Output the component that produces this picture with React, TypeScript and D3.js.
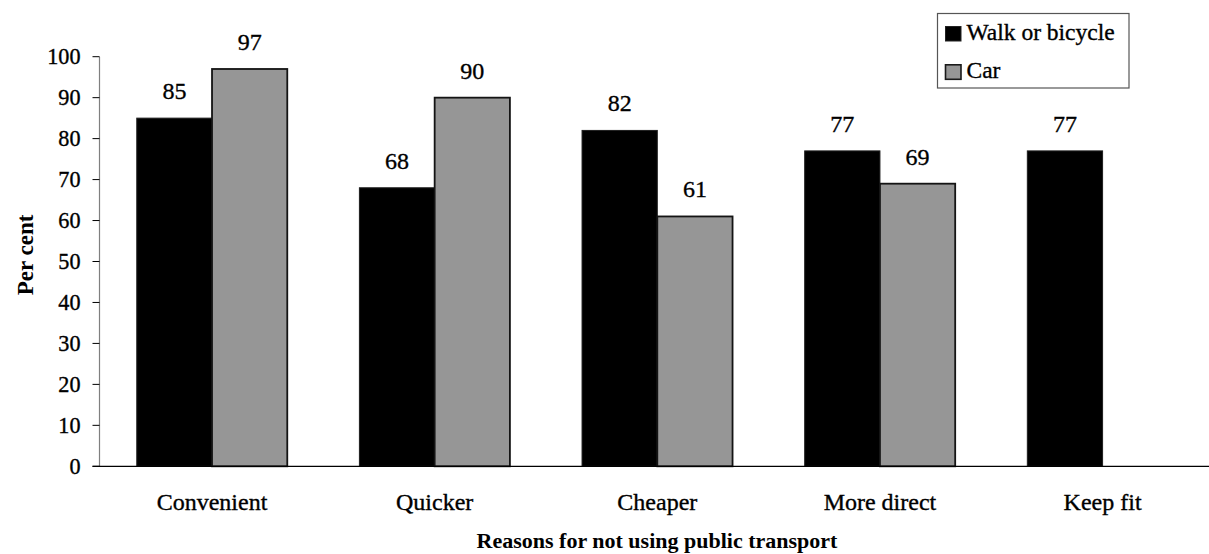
import React from "react";
import * as d3 from "d3";

// Reasons for not using public transport, per cent of respondents
const categories = ["Convenient", "Quicker", "Cheaper", "More direct", "Keep fit"];
const seriesNames = ["Walk or bicycle", "Car"];
const walkOrBicycle: (number | null)[] = [85, 68, 82, 77, 77];
const car: (number | null)[] = [97, 90, 61, 69, null];
const yTicks = [0, 10, 20, 30, 40, 50, 60, 70, 80, 90, 100];

const seriesColors = ["#000000", "#969696"];
const seriesStrokes = ["#1e1e1e", "#141414"];

const WIDTH = 1209;
const HEIGHT = 554;
const FONT = '"Liberation Serif", "Times New Roman", "DejaVu Serif", serif';

export default function App() {
  const series = [walkOrBicycle, car];

  const x = d3
    .scaleBand<string>()
    .domain(categories)
    .range([100.7, 1213.9])
    .paddingInner(0.324)
    .paddingOuter(0.162);

  const xSub = d3
    .scaleBand<string>()
    .domain(seriesNames)
    .range([0, x.bandwidth()])
    .padding(0);

  const y = d3.scaleLinear().domain([0, 100]).range([466.3, 56.7]);

  const axisX = 99.5;
  // regular-weight labels get a hairline outline so they print a little heavier
  const textStyle = { fontFamily: FONT };
  const regular = { stroke: "#000", strokeWidth: 0.35 };

  return (
    <svg
      width={WIDTH}
      height={HEIGHT}
      style={{ position: "absolute", left: 0, top: 0, background: "#fff", fontFamily: FONT }}
    >
      {/* Bars */}
      {categories.map((cat, ci) => (
        <g key={cat} transform={`translate(${x(cat)},0)`}>
          {series.map((vals, si) => {
            const v = vals[ci];
            if (v == null) return null;
            const bx = xSub(seriesNames[si])!;
            const top = y(v);
            return (
              <g key={seriesNames[si]}>
                <rect
                  x={bx}
                  y={top}
                  width={xSub.bandwidth()}
                  height={y(0) - top}
                  fill={seriesColors[si]}
                  stroke={seriesStrokes[si]}
                  strokeWidth={si === 1 ? 1.8 : 1}
                />
                <text
                  x={bx + xSub.bandwidth() / 2}
                  y={top - 19}
                  textAnchor="middle"
                  fontSize={24}
                  fill="#000"
                  style={textStyle}
                  {...regular}
                >
                  {v}
                </text>
              </g>
            );
          })}
        </g>
      ))}

      {/* Y axis */}
      <line x1={axisX} x2={axisX} y1={y(100)} y2={y(0)} stroke="#7f7f7f" strokeWidth={1.2} />
      {yTicks.map((t) => (
        <g key={t}>
          <line x1={92.5} x2={axisX} y1={y(t)} y2={y(t)} stroke="#000" strokeWidth={1} />
          <text
            x={80.5}
            y={y(t)}
            dy="0.34em"
            textAnchor="end"
            fontSize={22.2}
            fill="#000"
            style={textStyle}
            {...regular}
          >
            {t}
          </text>
        </g>
      ))}

      {/* X axis */}
      <line x1={92.5} x2={WIDTH} y1={y(0)} y2={y(0)} stroke="#000" strokeWidth={1.3} />
      {categories.map((cat) => (
        <text
          key={cat}
          x={x(cat)! + x.bandwidth() / 2}
          y={509.5}
          textAnchor="middle"
          fontSize={24}
          fill="#000"
          style={textStyle}
          {...regular}
        >
          {cat}
        </text>
      ))}

      {/* Axis titles */}
      <text
        x={657}
        y={547.5}
        textAnchor="middle"
        fontSize={22}
        fontWeight="bold"
        fill="#000"
        style={textStyle}
      >
        Reasons for not using public transport
      </text>
      <text
        transform="translate(33,255) rotate(-90)"
        textAnchor="middle"
        fontSize={23}
        fontWeight="bold"
        fill="#000"
        style={textStyle}
      >
        Per cent
      </text>

      {/* Legend */}
      <g>
        <rect x={937.5} y={13.5} width={191.5} height={74.5} fill="#fff" stroke="#555" strokeWidth={1.2} />
        {seriesNames.map((name, i) => {
          const baseline = 40 + i * 38.3;
          return (
            <g key={name}>
              <rect
                x={945.5}
                y={baseline - 13.5}
                width={15.5}
                height={14.5}
                fill={seriesColors[i]}
                stroke={i === 1 ? "#1a1a1a" : "#222"}
                strokeWidth={i === 1 ? 1.6 : 1}
              />
              <text x={966.5} y={baseline} fontSize={23.5} fill="#000" style={textStyle} {...regular}>
                {name}
              </text>
            </g>
          );
        })}
      </g>
    </svg>
  );
}
